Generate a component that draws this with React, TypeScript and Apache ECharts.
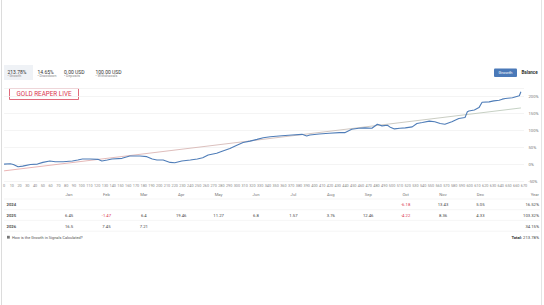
import React, { useEffect, useRef } from 'react';
import * as echarts from 'echarts';

const tradeNumbers = [0, 8, 12, 18, 24, 34, 43, 50, 59, 66, 76, 88, 95, 101, 111, 121, 126, 133, 139, 152, 162, 175, 184, 191, 197, 205, 214, 220, 229, 240, 249, 256, 263, 274, 281, 291, 300, 308, 317, 326, 334, 343, 358, 371, 384, 390, 394, 406, 419, 432, 439, 448, 457, 465, 474, 481, 487, 494, 497, 503, 510, 517, 526, 532, 539, 548, 555, 562, 568, 577, 586, 594, 597, 599, 606, 612, 616, 625, 631, 638, 642, 646, 655, 664, 666];
const growthValues = [0, 1, -1, -8, -6, -1, 0, 5, 9, 7, 7, 9, 12, 15, 15, 14, 9, 12, 15, 17, 24, 24, 22, 15, 12, 12, 5, 4, 9, 12, 15, 19, 27, 32, 38, 46, 56, 64, 68, 73, 78, 81, 84, 86, 88, 83, 86, 89, 91, 93, 93, 103, 106, 107, 106, 118, 113, 115, 110, 104, 106, 107, 110, 120, 123, 127, 125, 120, 118, 125, 135, 138, 155, 157, 160, 167, 183, 184, 187, 189, 192, 194, 196, 202, 213.78];
const trendTrades = [0, 666];
const trendValues = [-20, 166];

const statValues = ['213.78%', '14.65%', '0.00 USD', '100.00 USD'];
const statLabels = ['Growth', 'Drawdown', 'Deposits', 'Withdrawals'];

const monthNames = ['Jan', 'Feb', 'Mar', 'Apr', 'May', 'Jun', 'Jul', 'Aug', 'Sep', 'Oct', 'Nov', 'Dec'];
const yearNames = ['2024', '2025', '2026'];
const months2024: (number | null)[] = [null, null, null, null, null, null, null, null, null, -6.18, 13.43, 5.05];
const months2025: (number | null)[] = [6.45, -1.47, 6.4, 19.46, 11.27, 6.8, 1.57, 3.76, 12.46, -4.22, 8.36, 4.33];
const months2026: (number | null)[] = [16.5, 7.45, 7.21, null, null, null, null, null, null, null, null, null];
const yearTotals = ['16.52%', '103.32%', '34.15%'];
const totalGrowth = '213.78%';
const signalName = 'GOLD REAPER LIVE';

const FONT = 'Roboto, "Liberation Sans", Arial, sans-serif';

export default function App() {
  const ref = useRef<HTMLDivElement>(null);
  useEffect(() => {
    if (!ref.current) return;
    const chart = echarts.init(ref.current, null, { renderer: 'svg' });

    const graphics: any[] = [];
    // frame lines
    graphics.push({ type: 'line', shape: { x1: 1.5, y1: 0, x2: 1.5, y2: 305 }, style: { stroke: '#dcdcdc', lineWidth: 1 } });
    graphics.push({ type: 'line', shape: { x1: 541.5, y1: 0, x2: 541.5, y2: 305 }, style: { stroke: '#e4e4e4', lineWidth: 1 } });
    // stats
    graphics.push({ type: 'rect', shape: { x: 4, y: 65, width: 29, height: 15 }, style: { fill: '#eff2f6' } });
    const statX = [7.5, 37.5, 64, 95.5];
    statValues.forEach((v, i) => {
      graphics.push({ type: 'text', x: statX[i], y: 71.5, style: { text: v, fontSize: 5, fontFamily: FONT, fill: '#333', textAlign: 'left', textVerticalAlign: 'middle' } });
      graphics.push({ type: 'text', x: statX[i], y: 75.8, style: { text: '\u2022 ' + statLabels[i], fontSize: 3.6, fontFamily: FONT, fill: '#8a8a8a', textAlign: 'left', textVerticalAlign: 'middle' } });
    });
    // signal name box
    graphics.push({ type: 'rect', shape: { x: 9.5, y: 88.5, width: 69, height: 11 }, style: { fill: '#fff', stroke: '#d9455a', lineWidth: 0.8 } });
    graphics.push({ type: 'text', x: 44, y: 94.3, style: { text: signalName, fontSize: 6.3, fontFamily: FONT, fill: '#d9364f', textAlign: 'center', textVerticalAlign: 'middle' } });
    // buttons
    graphics.push({ type: 'rect', shape: { x: 494, y: 68.5, width: 23, height: 8.5, r: 1 }, style: { fill: '#4a79b8' } });
    graphics.push({ type: 'text', x: 505.5, y: 72.8, style: { text: 'Growth', fontSize: 4.3, fontFamily: FONT, fill: '#fff', textAlign: 'center', textVerticalAlign: 'middle' } });
    graphics.push({ type: 'text', x: 529.5, y: 72.8, style: { text: 'Balance', fontSize: 4.5, fontFamily: FONT, fontWeight: 'bold', fill: '#333', textAlign: 'center', textVerticalAlign: 'middle' } });

    // table
    const colX = monthNames.map((_, i) => 69 + 37.4 * i);
    const yearRight = 539;
    const headerY = 194.5;
    monthNames.forEach((m, i) => {
      graphics.push({ type: 'text', x: colX[i], y: headerY, style: { text: m, fontSize: 4.2, fontFamily: FONT, fill: '#777', textAlign: 'center', textVerticalAlign: 'middle' } });
    });
    graphics.push({ type: 'text', x: yearRight, y: headerY, style: { text: 'Year', fontSize: 4.2, fontFamily: FONT, fill: '#777', textAlign: 'right', textVerticalAlign: 'middle' } });
    const rowYs = [204.3, 215, 226];
    [199, 209.7, 220.4, 231.2].forEach((ly) => {
      graphics.push({ type: 'line', shape: { x1: 4, y1: ly, x2: 540, y2: ly }, style: { stroke: '#efefef', lineWidth: 0.6 } });
    });
    const rows = [months2024, months2025, months2026];
    rows.forEach((row, r) => {
      graphics.push({ type: 'text', x: 6.5, y: rowYs[r], style: { text: yearNames[r], fontSize: 4.2, fontFamily: FONT, fontWeight: 'bold', fill: '#555', textAlign: 'left', textVerticalAlign: 'middle' } });
      row.forEach((v, i) => {
        if (v === null) return;
        graphics.push({ type: 'text', x: colX[i], y: rowYs[r], style: { text: String(v), fontSize: 4.2, fontFamily: FONT, fill: v < 0 ? '#d9364f' : '#444', textAlign: 'center', textVerticalAlign: 'middle' } });
      });
      graphics.push({ type: 'text', x: yearRight, y: rowYs[r], style: { text: yearTotals[r], fontSize: 4.2, fontFamily: FONT, fill: '#444', textAlign: 'right', textVerticalAlign: 'middle' } });
    });
    // footer
    graphics.push({ type: 'rect', shape: { x: 7, y: 235.8, width: 2.8, height: 2.8 }, style: { fill: '#777' } });
    graphics.push({ type: 'text', x: 12, y: 237.3, style: { text: 'How is the Growth in Signals Calculated?', fontSize: 3.9, fontFamily: FONT, fill: '#555', textAlign: 'left', textVerticalAlign: 'middle' } });
    graphics.push({
      type: 'text', x: yearRight, y: 237.3,
      style: {
        text: '{b|Total:} ' + totalGrowth, fontSize: 4.2, fontFamily: FONT, fill: '#444', textAlign: 'right', textVerticalAlign: 'middle',
        rich: { b: { fontWeight: 'bold', fontSize: 4.2, fontFamily: FONT, fill: '#333' } },
      },
    });

    chart.setOption({
      animation: false,
      backgroundColor: '#ffffff',
      grid: { left: 4, right: 20, top: 88, bottom: 124, containLabel: false },
      xAxis: {
        type: 'value', min: 0, max: 670, interval: 10,
        axisLine: { show: false }, axisTick: { show: false }, splitLine: { show: false },
        axisLabel: { fontSize: 3.8, color: '#8a8a8a', margin: 2.5, fontFamily: FONT, hideOverlap: false },
      },
      yAxis: {
        type: 'value', position: 'right', min: -50, max: 225, interval: 50,
        axisLine: { show: false }, axisTick: { show: false },
        splitLine: { lineStyle: { color: '#f1f1f1', width: 0.8 } },
        axisLabel: {
          fontSize: 4.2, color: '#7a7a7a', margin: 4.5, fontFamily: FONT,
          formatter: (v: number) => (v % 50 === 0 ? v + '%' : ''),
        },
      },
      series: [
        {
          type: 'line', data: trendTrades.map((t, i) => [t, trendValues[i]]), symbol: 'none', z: 2,
          lineStyle: {
            width: 0.8,
            color: new echarts.graphic.LinearGradient(0, 0, 1, 0, [
              { offset: 0, color: '#e6a0a0' },
              { offset: 0.5, color: '#cdb4b0' },
              { offset: 1, color: '#b5c6b5' },
            ]),
          },
        },
        {
          type: 'line', data: tradeNumbers.map((t, i) => [t, growthValues[i]]), symbol: 'none', z: 3,
          lineStyle: { width: 1.1, color: '#4f7db8' },
        },
      ],
      graphic: graphics,
    });
    return () => chart.dispose();
  }, []);
  return <div ref={ref} style={{ position: 'fixed', left: 0, top: 0, width: 544, height: 305, background: '#fff' }} />;
}
